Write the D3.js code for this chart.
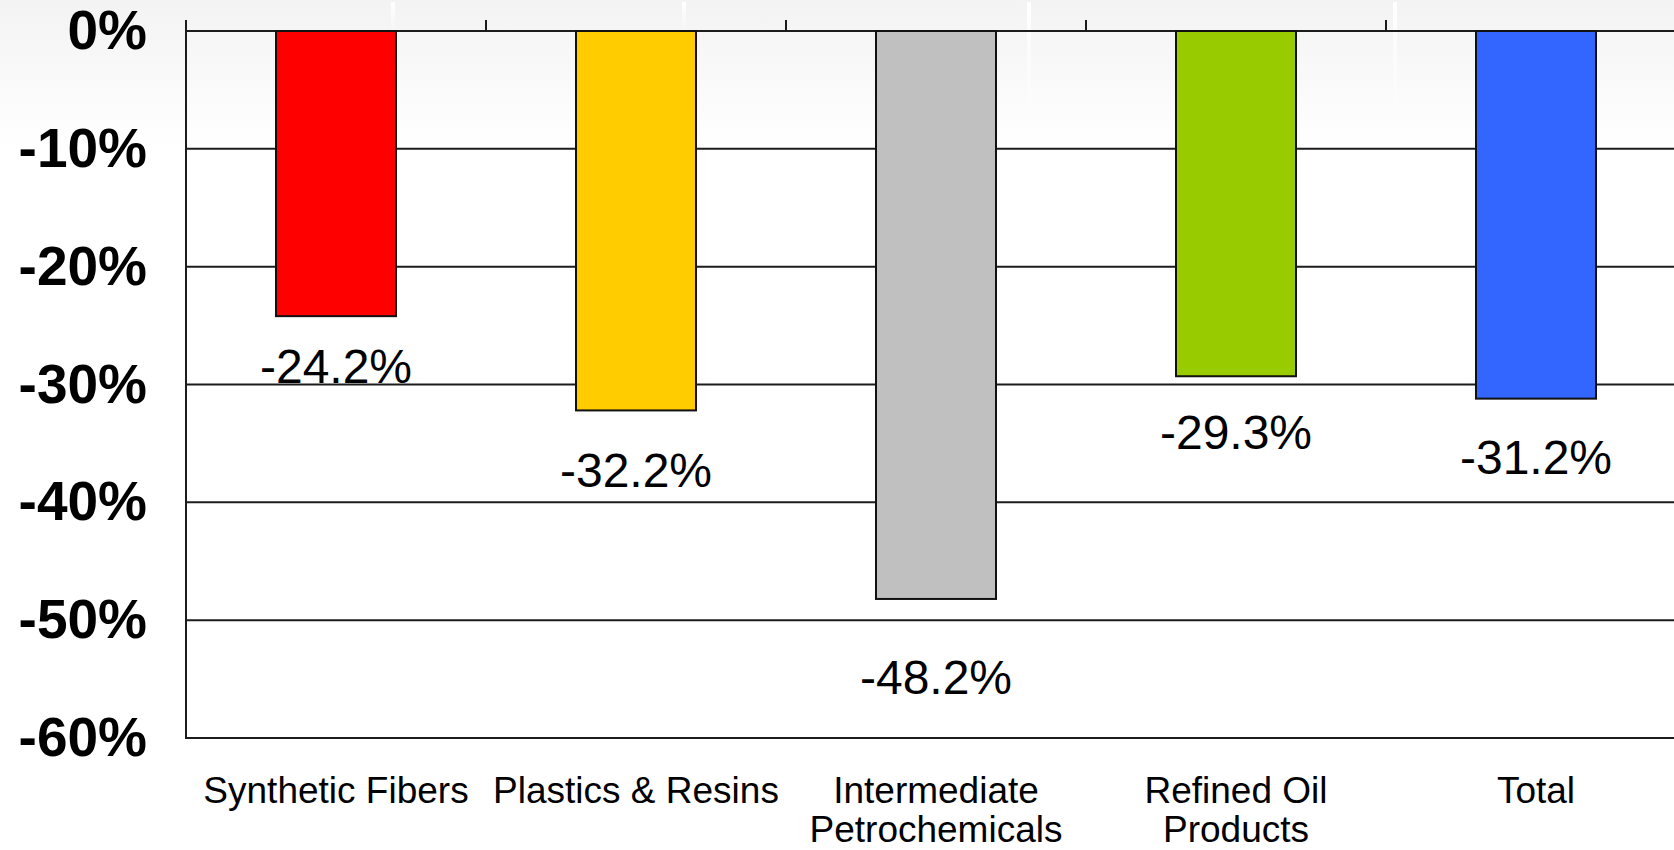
<!DOCTYPE html>
<html>
<head>
<meta charset="utf-8">
<script src="https://cdn.jsdelivr.net/npm/d3@7"></script>
<style>
  html, body { margin: 0; padding: 0; background: #fff; overflow: hidden; }
  svg { display: block; }
  text { font-family: "Liberation Sans", Arial, Helvetica, sans-serif; fill: #000; }
</style>
</head>
<body>
<svg id="chart" width="1674" height="850"></svg>
<script>
// Percentage change by product segment
const categories = ["Synthetic Fibers", "Plastics & Resins", "Intermediate Petrochemicals", "Refined Oil Products", "Total"];
const categoryLines = [["Synthetic Fibers"], ["Plastics & Resins"], ["Intermediate", "Petrochemicals"], ["Refined Oil", "Products"], ["Total"]];
const values = [-24.2, -32.2, -48.2, -29.3, -31.2];
const barColors = ["#ff0000", "#ffcc00", "#c0c0c0", "#99cc00", "#3366ff"];
const yTicks = [0, -10, -20, -30, -40, -50, -60];

const W = 1674, H = 850;
const plot = { left: 186, right: 1686, top: 31, bottom: 738 };
const lineColor = "#1c1c1c";

const svg = d3.select("#chart");

// soft grey wash fading down from the top edge
const defs = svg.append("defs");
const bg = defs.append("linearGradient").attr("id", "bgFade")
  .attr("x1", 0).attr("y1", 0).attr("x2", 0).attr("y2", 1);
bg.append("stop").attr("offset", "0%").attr("stop-color", "#f3f3f3");
bg.append("stop").attr("offset", "100%").attr("stop-color", "#ffffff");
svg.append("rect").attr("width", W).attr("height", H).attr("fill", "#fff");
svg.append("rect").attr("width", W).attr("height", 150).attr("fill", "url(#bgFade)");

// faint light streaks in the top wash
const streak = defs.append("linearGradient").attr("id", "streakFade")
  .attr("x1", 0).attr("y1", 0).attr("x2", 0).attr("y2", 1);
streak.append("stop").attr("offset", "0%").attr("stop-color", "#fff").attr("stop-opacity", 1);
streak.append("stop").attr("offset", "100%").attr("stop-color", "#fff").attr("stop-opacity", 0);
[[391, 30], [682, 30], [1027, 130], [1393, 125]].forEach(([sx, sh]) => {
  svg.append("rect").attr("x", sx).attr("y", 2).attr("width", 4).attr("height", sh)
    .attr("fill", "url(#streakFade)");
});

const x = d3.scaleBand()
  .domain(categories)
  .range([plot.left, plot.right])
  .paddingInner(0.6)
  .paddingOuter(0.3);

const y = d3.scaleLinear()
  .domain([0, -60])
  .range([plot.top, plot.bottom]);

// value labels sit further below deeper bars
const labelY = d3.scaleLinear()
  .domain([0, -60])
  .range([52, 830]);

// horizontal grid lines (incl. the zero line and the bottom frame)
svg.append("g").selectAll("line")
  .data(yTicks)
  .join("line")
  .attr("x1", plot.left).attr("x2", W + 20)
  .attr("y1", d => y(d)).attr("y2", d => y(d))
  .attr("stroke", lineColor).attr("stroke-width", 2);

// tick marks on the zero line at band boundaries
const step = x.step();
const boundaries = categories.map(c => x(c) - step * x.paddingInner() / 2)
  .concat([x(categories[categories.length - 1]) + x.bandwidth() + step * x.paddingInner() / 2]);
svg.append("g").selectAll("line")
  .data(boundaries)
  .join("line")
  .attr("x1", d => d).attr("x2", d => d)
  .attr("y1", y(0) - 11).attr("y2", y(0))
  .attr("stroke", lineColor).attr("stroke-width", 2);

// left axis with bold percentage labels
const yAxis = d3.axisLeft(y)
  .tickValues(yTicks)
  .tickFormat(d => d + "%")
  .tickSize(0)
  .tickPadding(39);
const yg = svg.append("g").attr("transform", `translate(${plot.left},0)`).call(yAxis);
yg.select(".domain").remove();
yg.selectAll("text")
  .attr("font-size", 55)
  .attr("font-weight", "bold")
  .attr("fill", "#000")
  .attr("font-family", "'Liberation Sans', Arial, Helvetica, sans-serif");

svg.append("line")
  .attr("x1", plot.left).attr("x2", plot.left)
  .attr("y1", y(0) - 11).attr("y2", plot.bottom + 1)
  .attr("stroke", lineColor).attr("stroke-width", 2);

// bars
svg.append("g").selectAll("rect")
  .data(values)
  .join("rect")
  .attr("x", (d, i) => x(categories[i]))
  .attr("width", x.bandwidth())
  .attr("y", y(0))
  .attr("height", d => y(d) - y(0))
  .attr("fill", (d, i) => barColors[i])
  .attr("stroke", "#111")
  .attr("stroke-width", 2);

// value labels
svg.append("g").selectAll("text")
  .data(values)
  .join("text")
  .attr("x", (d, i) => x(categories[i]) + x.bandwidth() / 2)
  .attr("y", d => labelY(d))
  .attr("dy", "0.36em")
  .attr("text-anchor", "middle")
  .attr("font-size", 48)
  .text(d => d.toFixed(1) + "%");

// category labels below the plot
const catG = svg.append("g").selectAll("text")
  .data(categoryLines)
  .join("text")
  .attr("text-anchor", "middle")
  .attr("font-size", 37)
  .attr("transform", (d, i) => `translate(${x(categories[i]) + x.bandwidth() / 2},803)`);
catG.selectAll("tspan")
  .data(d => d)
  .join("tspan")
  .attr("x", 0)
  .attr("y", (d, j) => j * 39)
  .text(d => d);
</script>
</body>
</html>
